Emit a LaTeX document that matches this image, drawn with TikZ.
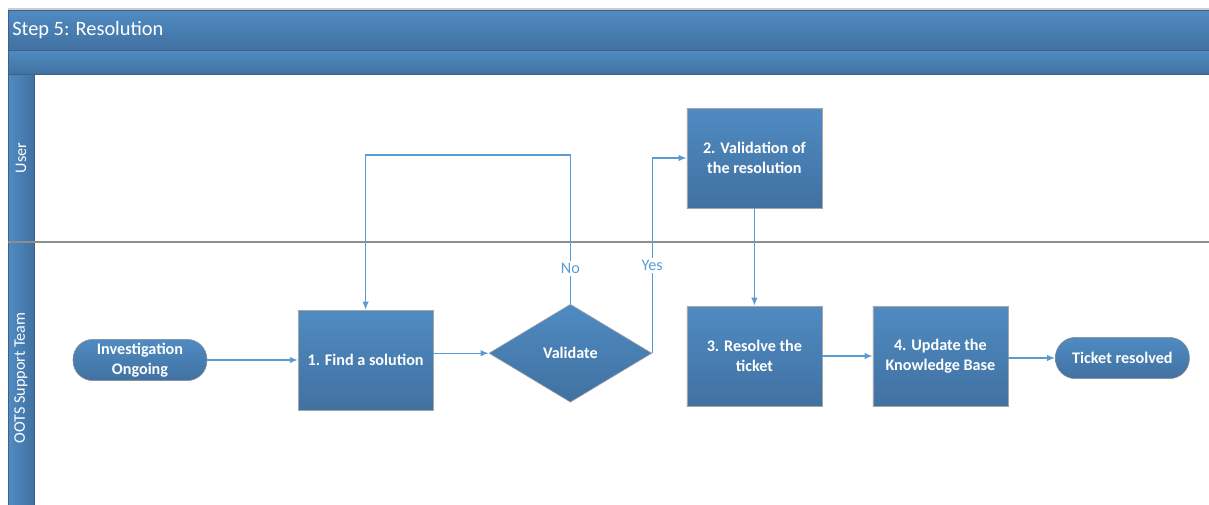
\documentclass[tikz,border=0pt]{standalone}
\usepackage{fontspec}
\setmainfont{Carlito}
\usepackage{tikz}
\usetikzlibrary{shapes.geometric}
\usetikzlibrary{arrows.meta}

\definecolor{barTop}{HTML}{4F8BC2}
\definecolor{barBot}{HTML}{4171A1}
\definecolor{barLine}{HTML}{3A628A}
\definecolor{flowBlue}{HTML}{5B9BD5}
\definecolor{laneGray}{HTML}{8E8E8E}

\tikzset{
  bar/.style={rectangle, draw=barLine, top color=barTop, bottom color=barBot, inner sep=0pt},
  lanecol/.style={rectangle, draw=barLine, left color=barTop, right color=barBot, inner sep=0pt},
  lanetxt/.style={text=white, font=\fontsize{11.5}{14}\selectfont},
  stepbox/.style={rectangle, draw=black!35, top color=barTop, bottom color=barBot, minimum width=3.375cm, minimum height=2.5cm, align=center, text=white, font=\fontsize{11.5}{14.5}\selectfont\bfseries},
  termbox/.style={rectangle, rounded corners=.5cm, draw=black!45, top color=barTop, bottom color=barBot, minimum width=3.35cm, minimum height=1.03cm, inner sep=1pt, align=center, text=white, font=\fontsize{11.5}{14.5}\selectfont\bfseries},
  decision/.style={diamond, draw=black!35, top color=barTop, bottom color=barBot, minimum width=4.075cm, minimum height=2.45cm, inner sep=0pt, text=white, font=\fontsize{11.5}{14.5}\selectfont\bfseries},
  flow/.style={draw=flowBlue, line width=.9pt, -{Latex[length=2mm,width=1.6mm]}},
  lbl/.style={text=flowBlue, fill=white, inner sep=1.5pt, font=\fontsize{11.5}{14}\selectfont}
}

\begin{document}
\begin{tikzpicture}

\useasboundingbox (0,0) rectangle (30.225,-12.6);

%------------------------------------------------------
\draw [black!20, line width=1pt] (0.2,-0.22) -- (30.225,-0.22);
\node (title) at(0.2,-0.25) [bar, anchor=north west, minimum width=30.1cm, minimum height=1cm]{};
\node (titletext) at(0.3,-0.75) [anchor=west, inner sep=0pt, text=white, font=\fontsize{14.5}{16}\selectfont]{Step 5: Resolution};
\node (phasebar) at(0.2,-1.25) [bar, anchor=north west, minimum width=30.1cm, minimum height=.6cm]{};
\node (lanes) at(0.2,-1.85) [lanecol, anchor=north west, minimum width=.65cm, minimum height=11cm]{};

\node (userlane) at(0.525,-3.95) [rotate=90, lanetxt]{User};
\node (ootslane) at(0.525,-9.45) [rotate=90, lanetxt]{OOTS Support Team};

\draw [laneGray, line width=1.2pt] (0.2,-6.05) -- (30.3,-6.05);

%------------------------------------------------------
\node (invest) at(3.5,-9.0) [termbox]{Investigation\\Ongoing};
\node (find) at(9.14,-9.0) [stepbox]{1. Find a solution};
\node (valid) at(14.26,-8.83) [decision]{Validate};
\node (valres) at(18.86,-3.95) [stepbox]{2. Validation of\\the resolution};
\node (resolve) at(18.86,-8.9) [stepbox]{3. Resolve the\\ticket};
\node (update) at(23.51,-8.9) [stepbox]{4. Update the\\Knowledge Base};
\node (closed) at(28.06,-8.95) [termbox]{Ticket resolved};

%------------------------------------------------------
\draw [flow] (invest) -- (find);
\draw [flow] (valid.west -| find.east) -- (valid);

\coordinate (noturn) at(14.26,-3.875);
\draw [flow] (valid.north) -- node[lbl,pos=.24]{No} (noturn) -| (find.north);
\draw [flow] (valid.east) -- node[lbl,pos=.45]{Yes} (valid.east |- valres.west) -- (valres.west);

\draw [flow] (valres) -- (resolve);
\draw [flow] (resolve) -- (update);
\draw [flow] (update.east |- closed) -- (closed);

\end{tikzpicture}
\end{document}
